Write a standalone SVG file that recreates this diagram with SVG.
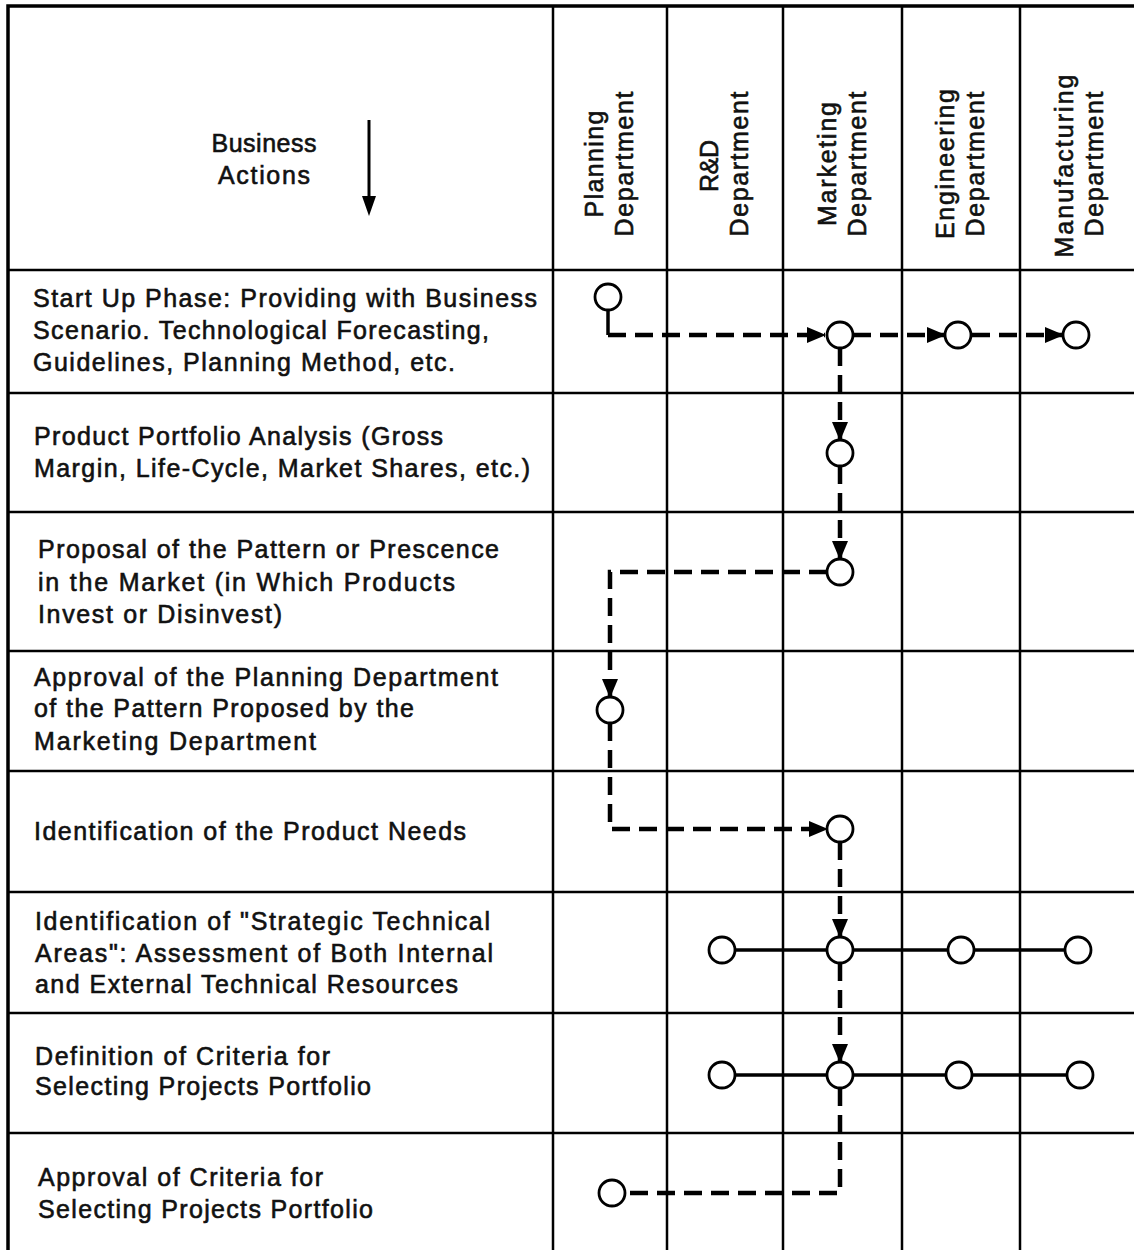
<svg xmlns="http://www.w3.org/2000/svg" width="1134" height="1250" viewBox="0 0 1134 1250">
<style>
.t{font-family:"Liberation Sans",Arial,Helvetica,sans-serif;font-size:25px;fill:#111;stroke:#111;stroke-width:0.6}
.h{font-family:"Liberation Sans",Arial,Helvetica,sans-serif;font-size:25px;fill:#111;stroke:#111;stroke-width:0.6;text-anchor:middle}
.grid{stroke:#000;stroke-width:2.5;fill:none}
.outer{stroke:#000;stroke-width:3.5;fill:none}
.dash{stroke:#000;stroke-width:4.5;fill:none;stroke-dasharray:18 9}
.solid{stroke:#000;stroke-width:3.5;fill:none}
.node{fill:#fff;stroke:#000;stroke-width:2.8}
</style>
<defs>
<marker id="ah" markerUnits="userSpaceOnUse" markerWidth="20" markerHeight="18" refX="18" refY="9" orient="auto">
<path d="M0,1 L19,9 L0,17 Z" fill="#000"/>
</marker>
</defs>
<rect width="1134" height="1250" fill="#fff"/>
<g id="grid">
<path class="outer" d="M8,1250 V6 H1134"/>
<path class="grid" d="M553,6 V1250 M667,6 V1250 M783,6 V1250 M902,6 V1250 M1020,6 V1250"/>
<path class="grid" d="M8,270 H1134 M8,393 H1134 M8,512 H1134 M8,651 H1134 M8,771 H1134 M8,892 H1134 M8,1013 H1134 M8,1133 H1134"/>
</g>
<g id="header">
<text class="h" x="264" y="152" textLength="105" lengthAdjust="spacing">Business</text>
<text class="h" x="264" y="184" textLength="92" lengthAdjust="spacing">Actions</text>
<line x1="369" y1="120" x2="369" y2="198" stroke="#000" stroke-width="3"/>
<polygon points="362,196 376,196 369,216" fill="#000"/>
</g>
<g id="dept-planning">
<text class="h" transform="rotate(-90)" x="-164" y="603" textLength="107" lengthAdjust="spacing">Planning</text>
<text class="h" transform="rotate(-90)" x="-164" y="633" textLength="145" lengthAdjust="spacing">Department</text>
</g>
<g id="dept-rd">
<text class="h" transform="rotate(-90)" x="-166" y="718" textLength="52" lengthAdjust="spacing">R&amp;D</text>
<text class="h" transform="rotate(-90)" x="-164" y="748" textLength="145" lengthAdjust="spacing">Department</text>
</g>
<g id="dept-marketing">
<text class="h" transform="rotate(-90)" x="-164" y="836" textLength="124" lengthAdjust="spacing">Marketing</text>
<text class="h" transform="rotate(-90)" x="-164" y="866" textLength="145" lengthAdjust="spacing">Department</text>
</g>
<g id="dept-engineering">
<text class="h" transform="rotate(-90)" x="-164" y="954" textLength="150" lengthAdjust="spacing">Engineering</text>
<text class="h" transform="rotate(-90)" x="-164" y="984" textLength="145" lengthAdjust="spacing">Department</text>
</g>
<g id="dept-manufacturing">
<text class="h" transform="rotate(-90)" x="-166" y="1073" textLength="183" lengthAdjust="spacing">Manufacturing</text>
<text class="h" transform="rotate(-90)" x="-164" y="1103" textLength="145" lengthAdjust="spacing">Department</text>
</g>
<g id="action-1">
<text class="t" x="33" y="307" textLength="504" lengthAdjust="spacing">Start Up Phase: Providing with Business</text>
<text class="t" x="33" y="339" textLength="456" lengthAdjust="spacing">Scenario. Technological Forecasting,</text>
<text class="t" x="33" y="371" textLength="422" lengthAdjust="spacing">Guidelines, Planning Method, etc.</text>
</g>
<g id="action-2">
<text class="t" x="34" y="445" textLength="409" lengthAdjust="spacing">Product Portfolio Analysis (Gross</text>
<text class="t" x="34" y="477" textLength="496" lengthAdjust="spacing">Margin, Life-Cycle, Market Shares, etc.)</text>
</g>
<g id="action-3">
<text class="t" x="38" y="558" textLength="461" lengthAdjust="spacing">Proposal of the Pattern or Prescence</text>
<text class="t" x="38" y="591" textLength="417" lengthAdjust="spacing">in the Market (in Which Products</text>
<text class="t" x="38" y="623" textLength="244" lengthAdjust="spacing">Invest or Disinvest)</text>
</g>
<g id="action-4">
<text class="t" x="34" y="686" textLength="464" lengthAdjust="spacing">Approval of the Planning Department</text>
<text class="t" x="34" y="717" textLength="380" lengthAdjust="spacing">of the Pattern Proposed by the</text>
<text class="t" x="34" y="750" textLength="282" lengthAdjust="spacing">Marketing Department</text>
</g>
<g id="action-5">
<text class="t" x="34" y="840" textLength="432" lengthAdjust="spacing">Identification of the Product Needs</text>
</g>
<g id="action-6">
<text class="t" x="35" y="930" textLength="455" lengthAdjust="spacing">Identification of "Strategic Technical</text>
<text class="t" x="35" y="962" textLength="458" lengthAdjust="spacing">Areas": Assessment of Both Internal</text>
<text class="t" x="35" y="993" textLength="423" lengthAdjust="spacing">and External Technical Resources</text>
</g>
<g id="action-7">
<text class="t" x="35" y="1065" textLength="295" lengthAdjust="spacing">Definition of Criteria for</text>
<text class="t" x="35" y="1095" textLength="336" lengthAdjust="spacing">Selecting Projects Portfolio</text>
</g>
<g id="action-8">
<text class="t" x="38" y="1186" textLength="285" lengthAdjust="spacing">Approval of Criteria for</text>
<text class="t" x="38" y="1218" textLength="335" lengthAdjust="spacing">Selecting Projects Portfolio</text>
</g>
<g id="connectors">
<path class="solid" d="M608,310 V335"/>
<path class="dash" d="M608,335 H825" marker-end="url(#ah)"/>
<path class="dash" d="M853,335 H945" marker-end="url(#ah)"/>
<path class="dash" d="M972,335 H1063" marker-end="url(#ah)"/>
<path class="dash" d="M840,348 V440" marker-end="url(#ah)"/>
<path class="dash" d="M840,466 V559" marker-end="url(#ah)"/>
<path class="dash" d="M827,572 H610 V697" marker-end="url(#ah)"/>
<path class="dash" d="M610,723 V829 H827" marker-end="url(#ah)"/>
<path class="dash" d="M840,842 V937" marker-end="url(#ah)"/>
<path class="dash" d="M840,963 V1062" marker-end="url(#ah)"/>
<path class="dash" d="M840,1088 V1193 H625"/>
<path class="solid" d="M722,950 H1078"/>
<path class="solid" d="M722,1075 H1080"/>
</g>
<g id="node-r1-planning"><circle class="node" cx="608" cy="297" r="13"/></g>
<g id="node-r1-marketing"><circle class="node" cx="840" cy="335" r="13"/></g>
<g id="node-r1-engineering"><circle class="node" cx="958" cy="335" r="13"/></g>
<g id="node-r1-manufacturing"><circle class="node" cx="1076" cy="335" r="13"/></g>
<g id="node-r2-marketing"><circle class="node" cx="840" cy="453" r="13"/></g>
<g id="node-r3-marketing"><circle class="node" cx="840" cy="572" r="13"/></g>
<g id="node-r4-planning"><circle class="node" cx="610" cy="710" r="13"/></g>
<g id="node-r5-marketing"><circle class="node" cx="840" cy="829" r="13"/></g>
<g id="node-r6-rd"><circle class="node" cx="722" cy="950" r="13"/></g>
<g id="node-r6-marketing"><circle class="node" cx="840" cy="950" r="13"/></g>
<g id="node-r6-engineering"><circle class="node" cx="961" cy="950" r="13"/></g>
<g id="node-r6-manufacturing"><circle class="node" cx="1078" cy="950" r="13"/></g>
<g id="node-r7-rd"><circle class="node" cx="722" cy="1075" r="13"/></g>
<g id="node-r7-marketing"><circle class="node" cx="840" cy="1075" r="13"/></g>
<g id="node-r7-engineering"><circle class="node" cx="959" cy="1075" r="13"/></g>
<g id="node-r7-manufacturing"><circle class="node" cx="1080" cy="1075" r="13"/></g>
<g id="node-r8-planning"><circle class="node" cx="612" cy="1193" r="13"/></g>
</svg>
